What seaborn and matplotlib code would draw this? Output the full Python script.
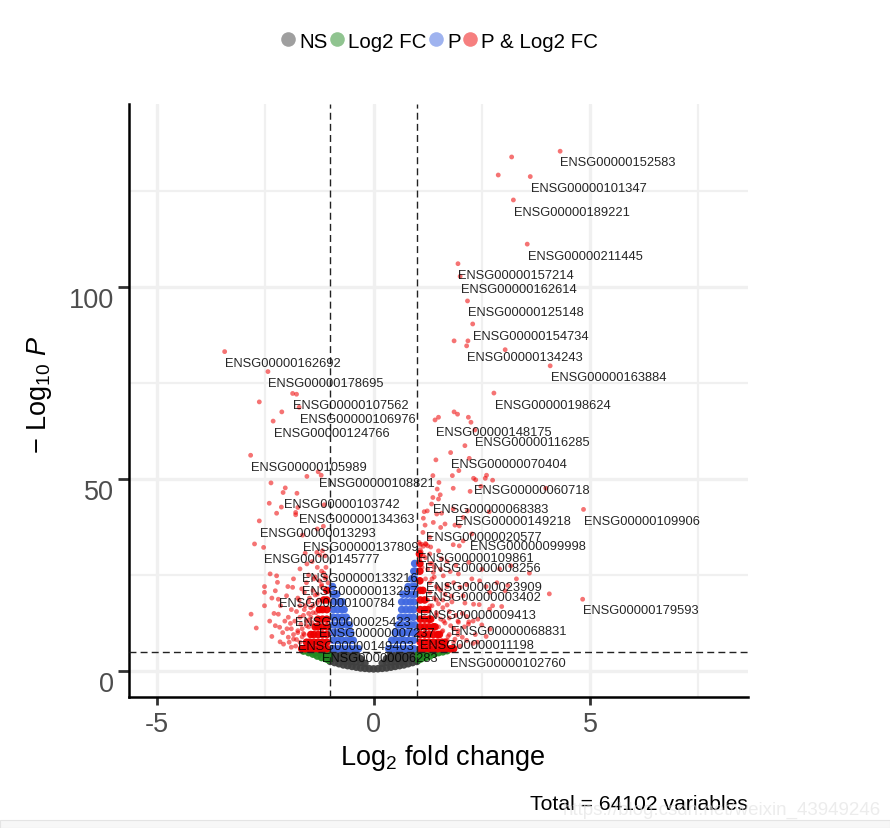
import matplotlib
matplotlib.use("Agg")
import matplotlib.pyplot as plt
from matplotlib.lines import Line2D
from matplotlib.patches import Rectangle
import pandas as pd
import seaborn as sns

# values
groups = ["NS", "Log2 FC", "P", "P & Log2 FC"]
colours = {"NS": "#404040", "Log2 FC": "#228B22", "P": "#4169E1", "P & Log2 FC": "#EE0000"}

# dense part of the cloud
ns_x = [-1, -.9, -.8, -.7, -.6, -.5, -.4, -.3, -.2, -.1, 0, .1, .2, .3, .4, .5, .6, .7, .8, .9, 1,
        -.7, -.6, -.5, -.4, -.3, -.2, .2, .3, .4, .5, .6, .7,
        -.98, -.9, -.8, -.7, -.6, -.5, -.4, -.3, .3, .4, .5, .6, .7, .8, .9, .98,
        -.98, -.9, -.8, -.7, -.6, -.5, -.4, .4, .5, .6, .7, .8, .9, .98]
ns_y = [2.5, 2.2, 1.9, 1.6, 1.4, 1.2, 1.0, .8, .7, .6, .55, .6, .7, .8, 1.0, 1.2, 1.4, 1.6, 1.9, 2.2, 2.5,
        2.6, 2.6, 2.5, 2.4, 2.3, 2.0, 2.0, 2.3, 2.4, 2.5, 2.6, 2.6,
        3.5, 3.4, 3.3, 3.5, 3.5, 3.4, 3.5, 3.2, 3.2, 3.5, 3.4, 3.5, 3.5, 3.3, 3.4, 3.5,
        4.6, 4.6, 4.6, 4.6, 4.6, 4.6, 4.5, 4.5, 4.6, 4.6, 4.6, 4.6, 4.6, 4.6]
fc_x = [-1.62, -1.5, -1.4, -1.3, -1.2, -1.1, -1.04, -1.05, -1.15, -1.25, -1.35, -1.04,
        1.04, 1.05, 1.1, 1.15, 1.2, 1.25, 1.3, 1.35, 1.4, 1.5, 1.6, 1.7, 1.04]
fc_y = [5.2, 4.8, 4.4, 3.9, 3.5, 3.2, 2.9, 4.6, 4.6, 4.7, 4.8, 3.8,
        2.9, 4.6, 3.2, 4.6, 3.5, 4.7, 3.9, 4.8, 4.4, 4.8, 5.0, 5.3, 3.8]
p_x = [-.93, -.83, -.73, -.63, -.53, -.43, -.35,
       -.93, -.83, -.73, -.63, -.53, -.47,
       -.93, -.83, -.73, -.63, -.53,
       -.93, -.83, -.73, -.63, -.56,
       -.93, -.83, -.73, -.63,
       -.93, -.83, -.73, -.68,
       -.9, -.8, -.72, -.93, -.85, -.95,
       .35, .43, .53, .63, .73, .83, .93,
       .42, .52, .62, .72, .82, .92,
       .5, .6, .7, .8, .9, .95,
       .57, .67, .77, .87, .95,
       .62, .72, .82, .92,
       .65, .75, .85, .93,
       .65, .75, .85, .93,
       .68, .78, .88, .95,
       .8, .9, .95, .88, .95, .93, .96, .95]
p_y = [5.8, 5.8, 5.8, 5.8, 5.8, 5.8, 5.8,
       8, 8, 8, 8, 8, 8,
       10, 10, 10, 10, 10,
       12, 12, 12, 12, 12,
       14, 14, 14, 14,
       16, 16, 16, 16,
       18, 18, 18, 20, 20, 22,
       5.8, 5.8, 5.8, 5.8, 5.8, 5.8, 5.8,
       8, 8, 8, 8, 8, 8,
       10, 10, 10, 10, 10, 10,
       12, 12, 12, 12, 12,
       14, 14, 14, 14,
       16, 16, 16, 16,
       18, 18, 18, 18,
       20, 20, 20, 20,
       22, 22, 22, 24, 24, 26, 26, 28]
red_core_x = [-1.08, -1.18, -1.28, -1.38, -1.48, -1.58, -1.66,
              -1.08, -1.18, -1.28, -1.38, -1.48, -1.55,
              -1.08, -1.18, -1.28, -1.38, -1.45,
              -1.08, -1.18, -1.28, -1.35,
              -1.08, -1.18, -1.28, -1.08, -1.18, -1.25, -1.08, -1.15, -1.08,
              1.08, 1.18, 1.28, 1.38, 1.48, 1.58, 1.68, 1.78, 1.85,
              1.08, 1.18, 1.28, 1.38, 1.48, 1.58, 1.65,
              1.08, 1.18, 1.28, 1.38, 1.48, 1.52,
              1.08, 1.18, 1.28, 1.38, 1.42,
              1.08, 1.18, 1.28, 1.32,
              1.08, 1.18, 1.25, 1.08, 1.18, 1.08, 1.14, 1.07, 1.07, 1.07, 1.06]
red_core_y = [5.8, 5.8, 5.8, 5.8, 5.8, 5.8, 5.8,
              7.5, 7.5, 7.5, 7.5, 7.5, 7.5,
              9.5, 9.5, 9.5, 9.5, 9.5,
              11.5, 11.5, 11.5, 11.5,
              13.5, 13.5, 13.5, 16, 16, 16, 18.5, 18.5, 21,
              5.8, 5.8, 5.8, 5.8, 5.8, 5.8, 5.8, 5.8, 5.8,
              7.5, 7.5, 7.5, 7.5, 7.5, 7.5, 7.5,
              9.5, 9.5, 9.5, 9.5, 9.5, 9.5,
              11.5, 11.5, 11.5, 11.5, 11.5,
              13.5, 13.5, 13.5, 13.5,
              16, 16, 16, 18.5, 18.5, 21, 21, 23.5, 26, 28, 30.5]

# single points that can be told apart
red_x = [4.31, 3.19, 2.88, 3.62, 3.23, 3.55, 1.95, 2.00, 2.17, 2.29, 1.86, 2.18, 2.15, 3.04, 4.08, 2.78,
         1.42, 1.50, 1.86, 1.94, 2.19, 2.25, 2.34, 2.11, 1.78, 1.44, 2.21, 1.97, 1.82, 1.37, 2.31, 2.36,
         2.58, 2.61, 2.75, 1.51, 1.47, 1.84, 2.23, 2.48, 3.98, 1.54, 1.37, 1.50, 1.34, 4.85, 1.84, 2.17,
         2.67, 1.17, 1.24, 1.46, 1.57, 1.15, 2.07, 1.38, 1.19, 1.65, 1.55, 1.88, 1.98, 1.14, 2.27, 1.30,
         1.84, 1.98, 2.07, 1.07, 1.21, 1.32, 1.04, 1.15, 1.07, 1.50, 1.57, 3.60, 3.17, 2.91, 2.27, 1.96,
         1.77, 1.38, 1.61, 4.06, 4.83, 3.04, 2.68, 2.07, 1.81, 2.11, 2.31, 2.44, 2.96, 2.75, 2.68, 2.41,
         2.69, 1.96, 2.19,
         1.11, 1.15, 1.20, 1.25, 1.08, 1.30, 1.40, 1.55, 1.70, 1.85, 1.35, 1.50, 1.65, 1.80, 2.0, 1.45,
         1.60, 1.75, 1.90, 2.05, 2.20, 1.30, 1.45, 1.62, 1.78, 1.95, 2.35, 1.58, 1.72, 1.88, 2.05, 2.3,
         1.05, 1.1, 1.2, 1.3, 1.12, 1.25, 1.2, 1.3, 1.4, 1.45, 1.3, 1.4, 1.25, 1.35, 1.5, 1.6, 1.7,
         1.45, 1.55, 1.65, 1.5, 1.6, 1.75, 1.7, 1.85, 2.0, 1.95, 2.1, 1.85, 1.75, 1.95, 2.15, 2.3, 2.5,
         2.6, 2.15, 2.4, 1.55, 1.7, 2.15, 2.45, 2.6, 2.85, 3.1, 3.3, 2.5, 2.2, 1.9, 1.7, 1.35,
         -3.44, -2.44, -1.87, -1.78, -2.64, -1.72, -2.12, -2.32, -2.84, -1.28, -1.21, -1.54, -2.37, -2.04,
         -2.09, -1.77, -2.41, -2.13, -1.75, -1.14, -2.24, -1.80, -1.80, -2.64, -1.16, -1.30, -1.64, -2.75,
         -2.54, -1.58, -1.31, -1.18, -1.24,
         -2.83, -2.71, -2.39, -2.52, -2.52, -2.52, -2.24, -2.22, -2.27, -2.01, -2.20, -2.20, -1.97, -2.27,
         -2.17, -2.35, -2.16, -2.08, -1.97, -1.85, -1.70, -1.85, -1.66, -1.87, -1.54,
         -1.42, -1.30, -1.15, -1.50, -1.38, -1.25, -1.12, -1.60, -1.48, -1.35, -1.20, -1.72, -1.58, -1.45,
         -1.30, -1.78, -1.62, -1.50, -1.40, -1.82, -1.68, -1.55, -1.75, -1.62, -1.90, -1.78, -1.65, -1.92,
         -1.05, -1.1, -1.2, -1.3, -1.4, -1.5, -1.6, -1.7, -1.45, -1.55, -1.65, -1.75, -1.85, -1.95, -1.6,
         -1.7, -1.8, -1.9, -1.1, -1.2, -1.35, -1.55, -1.75, -1.9, -2.05, -2.1, -2.3, -2.4, -1.25, -1.4,
         -1.5, -1.33, -1.12, -1.5, -1.42, -2.0, -2.15, -2.35, -1.98, -1.7]
red_y = [135.4, 133.9, 129.2, 128.8, 122.7, 111.2, 106.1, 102.8, 96.4, 90.4, 86.0, 86.0, 84.7, 83.7, 79.5, 72.4,
         65.4, 66.1, 67.5, 66.9, 66.1, 64.8, 62.8, 58.7, 56.9, 55.0, 55.4, 52.2, 50.9, 50.9, 50.2, 49.8,
         50.2, 51.0, 49.7, 49.1, 47.4, 47.6, 46.8, 48.1, 47.6, 45.9, 45.2, 44.8, 43.5, 42.1, 42.2, 41.7,
         41.5, 41.5, 41.7, 40.9, 41.1, 39.8, 40.0, 38.7, 38.0, 38.3, 37.4, 38.0, 37.8, 36.1, 35.7, 34.8,
         32.9, 32.6, 33.9, 33.0, 33.0, 32.3, 30.9, 30.0, 29.2, 31.3, 29.2, 25.5, 27.4, 26.6, 24.0, 25.3,
         25.9, 25.7, 24.8, 20.1, 18.7, 20.9, 20.5, 19.6, 18.0, 17.7, 17.4, 17.3, 16.8, 17.0, 16.1, 13.5,
         10.9, 12.7, 12.2,
         33.0, 32.5, 33.2, 32.6, 31.6, 28.0, 27.0, 26.5, 22.5, 23.0, 24.0, 21.5, 20.0, 19.5, 21.8, 18.5,
         16.5, 15.5, 14.5, 15.0, 12.8, 17.0, 15.2, 13.0, 11.8, 10.5, 9.5, 10.2, 9.0, 8.3, 8.8, 7.2,
         33.5, 31, 29.5, 30.5, 27, 26.5, 24, 23, 24.5, 22, 20.5, 19, 18.5, 17, 17.5, 18.5, 17.2,
         14.5, 13.5, 12.5, 11.5, 10.5, 9.5, 8, 7.5, 6.5, 9.5, 11.5, 11, 13.8, 13, 14.2, 13, 12,
         9, 8, 7.5, 21, 22, 22.5, 23.5, 22, 23, 22.3, 24, 26.5, 28.3, 27.5, 28.5, 28,
         83.2, 78.0, 72.3, 72.1, 70.1, 68.7, 67.5, 65.1, 56.2, 51.9, 51.0, 50.7, 49.0, 47.7,
         46.5, 46.3, 43.7, 42.7, 42.6, 43.3, 41.1, 41.3, 40.7, 39.1, 37.7, 37.0, 35.4, 33.1,
         32.2, 30.7, 30.9, 31.3, 30.2,
         14.8, 11.2, 25.3, 22.0, 20.5, 17.0, 24.8, 23.1, 20.9, 19.6, 18.7, 14.8, 14.0, 11.8,
         11.4, 9.0, 7.6, 7.0, 8.8, 8.3, 26.6, 24.0, 21.4, 21.8, 27.9,
         28.5, 27.0, 25.5, 25.0, 24.0, 23.5, 24.2, 20.5, 19.0, 19.8, 22.5, 18.5, 17.0, 16.5,
         17.8, 15.5, 14.5, 13.2, 15.2, 13.0, 12.2, 11.8, 10.5, 9.8, 11.0, 8.2, 8.9, 12.4,
         23, 24.5, 22, 20, 21, 18, 16, 14, 14, 13, 11, 10, 9.5, 7.5, 9.5,
         7.5, 6.5, 6.2, 27, 26, 24.5, 23, 19, 16, 13, 10, 15, 13, 18.5, 17,
         15, 15.2, 30, 11.5, 12.6, 11, 17, 19, 22, 17]

# gene names and where their text starts
gene_names = ["ENSG00000152583", "ENSG00000101347", "ENSG00000189221", "ENSG00000211445", "ENSG00000157214",
              "ENSG00000162614", "ENSG00000125148", "ENSG00000154734", "ENSG00000134243", "ENSG00000163884",
              "ENSG00000198624", "ENSG00000148175", "ENSG00000116285", "ENSG00000070404", "ENSG00000060718",
              "ENSG00000068383", "ENSG00000149218", "ENSG00000109906", "ENSG00000020577", "ENSG00000099998",
              "ENSG00000109861", "ENSG00000008256", "ENSG00000023909", "ENSG00000003402", "ENSG00000009413",
              "ENSG00000179593", "ENSG00000068831", "ENSG00000011198", "ENSG00000102760",
              "ENSG00000162692", "ENSG00000178695", "ENSG00000107562", "ENSG00000106976", "ENSG00000124766",
              "ENSG00000105989", "ENSG00000108821", "ENSG00000103742", "ENSG00000134363", "ENSG00000013293",
              "ENSG00000137809", "ENSG00000145777", "ENSG00000133216", "ENSG00000013297", "ENSG00000100784",
              "ENSG00000025423", "ENSG00000007237", "ENSG00000149403", "ENSG00000006283"]
gene_x = [4.31, 3.63, 3.24, 3.57, 1.96, 2.02, 2.17, 2.30, 2.16, 4.09, 2.81, 1.44, 2.34, 1.79, 2.32, 1.37, 1.88,
          4.86, 1.21, 2.23, 1.03, 1.19, 1.21, 1.19, 1.07, 4.84, 1.79, 1.07, 1.77,
          -3.43, -2.44, -1.86, -1.70, -2.30, -2.84, -1.27, -2.07, -1.72, -2.62, -1.63, -2.53, -1.65, -1.65,
          -2.18, -1.81, -1.26, -1.74, -1.19]
gene_y = [132.6, 125.8, 119.6, 108.1, 103.1, 99.6, 93.5, 87.3, 81.8, 76.6, 69.3, 62.3, 59.7, 53.9, 47.2, 42.2,
          39.1, 39.1, 34.9, 32.6, 29.4, 26.8, 21.9, 19.3, 14.5, 15.9, 10.4, 6.8, 2.1,
          80.2, 75.0, 69.3, 65.6, 62.0, 53.1, 49.0, 43.5, 39.6, 36.0, 32.3, 29.2, 24.2, 20.9,
          17.7, 12.8, 9.9, 6.5, 3.4]

core = pd.concat([
    pd.DataFrame({"x": ns_x, "y": ns_y, "group": "NS"}),
    pd.DataFrame({"x": fc_x, "y": fc_y, "group": "Log2 FC"}),
    pd.DataFrame({"x": p_x, "y": p_y, "group": "P"}),
    pd.DataFrame({"x": red_core_x, "y": red_core_y, "group": "P & Log2 FC"}),
])
single = pd.DataFrame({"x": red_x, "y": red_y, "group": "P & Log2 FC"})

sns.set_style("white")
plt.rcParams["font.family"] = ["Liberation Sans", "DejaVu Sans"]
plt.rcParams["axes.unicode_minus"] = False
plt.rcParams["mathtext.fontset"] = "custom"
plt.rcParams["mathtext.rm"] = "Liberation Sans"
plt.rcParams["mathtext.it"] = "Liberation Sans:italic"
plt.rcParams["mathtext.default"] = "regular"

fig = plt.figure(figsize=(8.9, 8.29), dpi=100)
ax = fig.add_axes([129 / 890, 1 - 698 / 829, 619 / 890, 593 / 829])

sns.scatterplot(data=core, x="x", y="y", hue="group", palette=colours, s=30, linewidth=0,
                alpha=0.95, legend=False, ax=ax, zorder=3)
sns.scatterplot(data=single, x="x", y="y", hue="group", palette=colours, s=12, linewidth=0,
                alpha=0.55, legend=False, ax=ax, zorder=3)

ax.set_xlim(-5.65, 8.65)
ax.set_ylim(-6.77, 147.7)
ax.set_xticks([-5, 0, 5])
ax.set_yticks([0, 50, 100])
ax.set_xticks([-2.5, 2.5, 7.5], minor=True)
ax.set_yticks([25, 75, 125], minor=True)
ax.grid(True, which="major", color="#F0F0F0", linewidth=2.4, zorder=0)
ax.grid(True, which="minor", color="#F0F0F0", linewidth=1.6, zorder=0)
ax.set_axisbelow(True)
ax.tick_params(which="minor", length=0)
ax.tick_params(axis="x", which="major", length=6, width=2, color="#333333", labelsize=19.5,
               labelcolor="#4D4D4D", pad=4, bottom=True)
ax.tick_params(axis="y", which="major", length=8, width=2, color="#333333", labelsize=19.5,
               labelcolor="#4D4D4D", pad=3, left=True)
for lab in ax.get_yticklabels():
    lab.set_verticalalignment("top")

sns.despine(ax=ax)
ax.spines["left"].set_linewidth(1.8)
ax.spines["bottom"].set_linewidth(1.8)
ax.spines["left"].set_color("black")
ax.spines["bottom"].set_color("black")

# cutoffs
for v in [-1, 1]:
    ax.axvline(v, color="#222222", linewidth=1.0, linestyle=(0, (5, 3)), zorder=4)
ax.axhline(5, color="#222222", linewidth=1.0, linestyle=(0, (5, 3)), zorder=4)

for name, gx, gy in zip(gene_names, gene_x, gene_y):
    ax.text(gx, gy, name, fontsize=9.3, color="black", alpha=0.85, ha="left", va="center", zorder=5)

ax.set_xlabel("")
ax.set_ylabel("")
fig.text(443 / 890, 1 - 758 / 829, r"Log$_{2}$ fold change", fontsize=19.5, color="black", ha="center", va="center")
fig.text(40 / 890, 1 - 395 / 829, r"$-$ Log$_{10}$ $\mathit{P}$", fontsize=19.5, color="black", rotation=90,
         ha="center", va="center")
fig.text(748 / 890, 1 - 805 / 829, "Total = 64102 variables", fontsize=15.2, color="black", ha="right", va="center")

handles = [Line2D([], [], marker="o", linestyle="", markersize=10.5, markeredgewidth=0,
                  color=colours[g], alpha=0.5) for g in groups]
fig.legend(handles, groups, loc="center", bbox_to_anchor=(439 / 890, 1 - 42 / 829), ncol=4, frameon=False,
           fontsize=14.8, columnspacing=0.05, handlelength=0.8, handletextpad=0.15, labelcolor="black")

# page strip and watermark of the screenshot
fig.add_artist(Rectangle((0, 0), 1, 8 / 829, transform=fig.transFigure, facecolor="#F7F7F7",
                         edgecolor="#E4E4E4", linewidth=0.8))
fig.text(881 / 890, 1 - 810 / 829, "https://blog.csdn.net/weixin_43949246", fontsize=13.5, color="#E0E0E0",
         alpha=0.6, ha="right", va="center", zorder=10)

fig.savefig("out.png", dpi=100)
